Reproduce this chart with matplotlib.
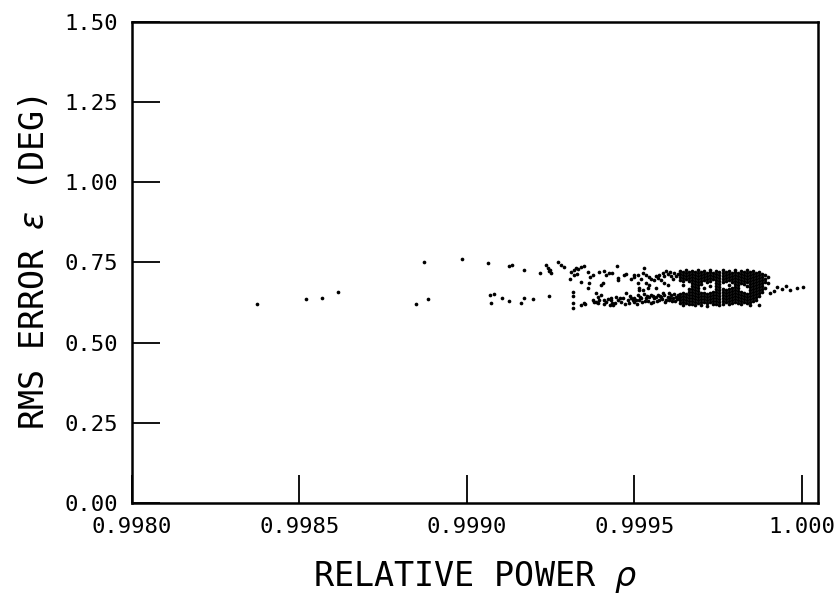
import matplotlib
matplotlib.use("Agg")
from matplotlib import pyplot as plt

# scattered points left of the main cluster (rho, eps)
far_points = [
    (0.998374, 0.621), (0.998521, 0.636), (0.998566, 0.639), (0.998614, 0.658),
    (0.998847, 0.621), (0.998871, 0.752), (0.998883, 0.636), (0.998985, 0.761),
    (0.999063, 0.749), (0.999069, 0.649), (0.999081, 0.652), (0.999072, 0.624),
    (0.999105, 0.639), (0.999126, 0.739), (0.999135, 0.742), (0.999126, 0.630),
    (0.999171, 0.727), (0.999171, 0.639), (0.999162, 0.624), (0.999198, 0.636),
    (0.999219, 0.717),
]

# points thickening towards the cluster
edge_points = [
    (0.999235, 0.742), (0.999241, 0.733), (0.999244, 0.723), (0.999247, 0.727), (0.999250, 0.717),
    (0.999271, 0.752), (0.999280, 0.742), (0.999289, 0.736), (0.999310, 0.720), (0.999319, 0.727),
    (0.999325, 0.733), (0.999331, 0.730), (0.999340, 0.736), (0.999349, 0.739), (0.999319, 0.711),
    (0.999328, 0.714), (0.999361, 0.720), (0.999367, 0.705), (0.999307, 0.699), (0.999340, 0.689),
    (0.999364, 0.686), (0.999394, 0.720), (0.999361, 0.670), (0.999244, 0.645), (0.999316, 0.658),
    (0.999316, 0.645), (0.999316, 0.624), (0.999316, 0.608), (0.999340, 0.618), (0.999349, 0.624),
    (0.999352, 0.621), (0.999376, 0.633), (0.999379, 0.627), (0.999391, 0.642), (0.999394, 0.633),
    (0.999385, 0.655),
    (0.999376, 0.711), (0.999409, 0.723), (0.999415, 0.711), (0.999424, 0.717), (0.999433, 0.717),
    (0.999448, 0.739), (0.999451, 0.702), (0.999451, 0.695), (0.999469, 0.711), (0.999475, 0.714),
    (0.999490, 0.699), (0.999499, 0.711), (0.999406, 0.686), (0.999400, 0.680), (0.999511, 0.686),
    (0.999514, 0.664),
    (0.999385, 0.627), (0.999391, 0.624), (0.999400, 0.649), (0.999409, 0.633), (0.999415, 0.627),
    (0.999430, 0.633), (0.999433, 0.624), (0.999436, 0.618), (0.999427, 0.618), (0.999430, 0.639),
    (0.999445, 0.642), (0.999451, 0.633), (0.999460, 0.627), (0.999466, 0.639), (0.999475, 0.655),
    (0.999481, 0.633), (0.999484, 0.624), (0.999496, 0.633), (0.999499, 0.627), (0.999514, 0.633),
    (0.999409, 0.621), (0.999421, 0.636), (0.999442, 0.624), (0.999457, 0.639), (0.999472, 0.621),
    (0.999487, 0.645), (0.999508, 0.621),
    (0.999529, 0.733), (0.999499, 0.705), (0.999511, 0.711), (0.999526, 0.717), (0.999535, 0.711),
    (0.999544, 0.705), (0.999550, 0.699), (0.999559, 0.695), (0.999574, 0.711), (0.999586, 0.717),
    (0.999589, 0.708), (0.999601, 0.714), (0.999610, 0.708), (0.999619, 0.717), (0.999631, 0.714),
    (0.999571, 0.702), (0.999580, 0.695), (0.999535, 0.686), (0.999544, 0.680), (0.999565, 0.670),
    (0.999589, 0.686), (0.999601, 0.680), (0.999514, 0.670), (0.999526, 0.664), (0.999541, 0.670),
    (0.999595, 0.723), (0.999607, 0.720), (0.999625, 0.708), (0.999616, 0.699), (0.999565, 0.708),
    (0.999520, 0.699),
    (0.999490, 0.639), (0.999499, 0.639), (0.999505, 0.633), (0.999520, 0.639), (0.999535, 0.639),
    (0.999544, 0.642), (0.999550, 0.649), (0.999559, 0.639), (0.999565, 0.642), (0.999571, 0.649),
    (0.999580, 0.642), (0.999586, 0.655), (0.999589, 0.649), (0.999601, 0.642), (0.999604, 0.655),
    (0.999610, 0.649), (0.999616, 0.639), (0.999619, 0.652), (0.999625, 0.642), (0.999631, 0.649),
    (0.999634, 0.639), (0.999529, 0.652), (0.999511, 0.649), (0.999523, 0.627), (0.999541, 0.630),
    (0.999556, 0.627), (0.999574, 0.633), (0.999595, 0.633), (0.999613, 0.630),
    (0.999532, 0.630), (0.999550, 0.624), (0.999568, 0.630), (0.999583, 0.636), (0.999592, 0.627),
    (0.999604, 0.633), (0.999622, 0.630), (0.999628, 0.636), (0.999607, 0.639), (0.999577, 0.645),
    (0.999556, 0.645), (0.999538, 0.645), (0.999517, 0.642),
]

# dense cluster, read column by column
cluster_rho = [
    0.999637, 0.999646, 0.999655, 0.999664, 0.999673, 0.999682, 0.999691, 0.999700,
    0.999709, 0.999718, 0.999727, 0.999736, 0.999745, 0.999754, 0.999763, 0.999772,
    0.999781, 0.999790, 0.999799, 0.999808, 0.999817, 0.999826, 0.999835, 0.999844,
    0.999853, 0.999862, 0.999871, 0.999880, 0.999889, 0.999898,
]
cluster_eps = [
    [0.723, 0.714, 0.705, 0.695, 0.652, 0.642, 0.633, 0.624],
    [0.720, 0.711, 0.702, 0.692, 0.680, 0.655, 0.645, 0.636, 0.627, 0.618],
    [0.727, 0.717, 0.708, 0.699, 0.652, 0.642, 0.633, 0.624],
    [0.720, 0.711, 0.702, 0.692, 0.667, 0.658, 0.649, 0.639, 0.630, 0.621],
    [0.723, 0.714, 0.705, 0.695, 0.686, 0.677, 0.667, 0.658, 0.649, 0.639, 0.630, 0.621],
    [0.720, 0.711, 0.702, 0.692, 0.683, 0.674, 0.664, 0.655, 0.645, 0.636, 0.627, 0.618],
    [0.727, 0.717, 0.708, 0.699, 0.689, 0.680, 0.670, 0.661, 0.652, 0.642, 0.633, 0.624],
    [0.720, 0.711, 0.702, 0.692, 0.683, 0.655, 0.645, 0.636, 0.627, 0.618],
    [0.723, 0.714, 0.705, 0.695, 0.670, 0.655, 0.645, 0.636, 0.627],
    [0.717, 0.708, 0.699, 0.689, 0.652, 0.642, 0.633, 0.624, 0.614],
    [0.727, 0.720, 0.711, 0.702, 0.692, 0.677, 0.655, 0.645, 0.636, 0.627],
    [0.717, 0.708, 0.699, 0.658, 0.649, 0.639, 0.630, 0.621],
    [0.723, 0.714, 0.705, 0.695, 0.686, 0.677, 0.667, 0.658, 0.649, 0.639, 0.630, 0.621],
    [0.720, 0.711, 0.702, 0.692, 0.683, 0.674, 0.664, 0.655, 0.645, 0.636, 0.627, 0.618],
    [0.727, 0.717, 0.708, 0.699, 0.689, 0.667, 0.658, 0.649, 0.639, 0.630, 0.621],
    [0.720, 0.711, 0.702, 0.692, 0.664, 0.655, 0.645, 0.636, 0.627],
    [0.723, 0.714, 0.705, 0.695, 0.680, 0.667, 0.658, 0.649, 0.639, 0.630, 0.621],
    [0.717, 0.708, 0.699, 0.689, 0.670, 0.661, 0.652, 0.642, 0.633, 0.624],
    [0.727, 0.720, 0.711, 0.702, 0.692, 0.683, 0.674, 0.664, 0.655, 0.645, 0.636, 0.627],
    [0.717, 0.708, 0.699, 0.689, 0.680, 0.670, 0.661, 0.652, 0.642, 0.633, 0.624],
    [0.723, 0.714, 0.705, 0.695, 0.686, 0.658, 0.649, 0.639, 0.630, 0.621],
    [0.720, 0.711, 0.702, 0.692, 0.683, 0.655, 0.645, 0.636, 0.627],
    [0.727, 0.717, 0.708, 0.699, 0.689, 0.677, 0.652, 0.642, 0.633, 0.624],
    [0.720, 0.711, 0.702, 0.692, 0.683, 0.674, 0.664, 0.655, 0.645, 0.636, 0.627, 0.618],
    [0.723, 0.714, 0.705, 0.695, 0.686, 0.677, 0.667, 0.658, 0.649, 0.639, 0.630],
    [0.717, 0.708, 0.699, 0.689, 0.680, 0.670, 0.661, 0.652, 0.642, 0.633],
    [0.720, 0.711, 0.702, 0.692, 0.683, 0.674, 0.664, 0.655, 0.645, 0.618],
    [0.714, 0.705, 0.695, 0.686, 0.677, 0.667, 0.658],
    [0.711, 0.699, 0.689, 0.670],
    [0.705, 0.686],
]

# trailing points towards rho = 1
tail_points = [
    (0.999904, 0.655), (0.999916, 0.661), (0.999925, 0.674), (0.999940, 0.667),
    (0.999952, 0.677), (0.999964, 0.664), (0.999985, 0.670), (1.000003, 0.674),
]

x_ticks = [0.9980, 0.9985, 0.9990, 0.9995, 1.0000]
x_tick_labels = ["0.9980", "0.9985", "0.9990", "0.9995", "1.000"]
y_ticks = [0.00, 0.25, 0.50, 0.75, 1.00, 1.25, 1.50]
y_tick_labels = ["0.00", "0.25", "0.50", "0.75", "1.00", "1.25", "1.50"]

plt.rcParams["font.family"] = ["DejaVu Sans Mono", "DejaVu Sans"]
plt.rcParams["mathtext.fontset"] = "dejavusans"

fig = plt.figure(figsize=(8.38, 5.97), dpi=100)
ax = fig.add_axes([0.1575, 0.1575, 0.8186, 0.8057])

dot = dict(s=7, c="black", marker="o", linewidths=0)
for pts in (far_points, edge_points, tail_points):
    xs, ys = zip(*pts)
    ax.scatter(xs, ys, **dot)
for rho, col in zip(cluster_rho, cluster_eps):
    ax.scatter([rho] * len(col), col, **dot)

ax.set_xlim(0.998, 1.000048)
ax.set_ylim(0, 1.5)
ax.set_xticks(x_ticks)
ax.set_xticklabels(x_tick_labels)
ax.set_yticks(y_ticks)
ax.set_yticklabels(y_tick_labels)
ax.tick_params(direction="in", length=20, width=1.3, pad=10, labelsize=16)

for s in ax.spines.values():
    s.set_linewidth(1.8)

ax.set_xlabel(r"RELATIVE POWER $\rho$", fontsize=24, labelpad=16)
ax.set_ylabel(r"RMS ERROR $\varepsilon$ (DEG)", fontsize=24, labelpad=10)

fig.savefig("out.png", dpi=100)
